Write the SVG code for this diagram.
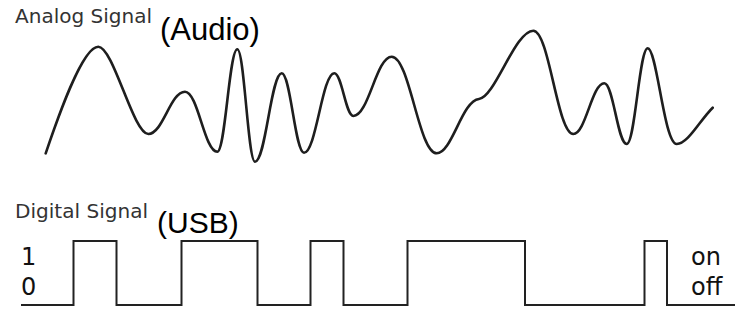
<svg xmlns="http://www.w3.org/2000/svg" width="735" height="328" viewBox="0 0 735 328">
  <style>
    .caption { font-family: "DejaVu Sans", Verdana, sans-serif; font-size: 20px; fill: #333; }
    .tag { font-family: "Liberation Sans", Arial, sans-serif; fill: #000; }
    .level { font-family: "DejaVu Sans", Verdana, sans-serif; font-size: 24px; fill: #111; }
    .wave { fill: none; stroke: #1e1e1e; stroke-width: 2.6; stroke-linecap: round; stroke-linejoin: round; }
    .pulse { fill: none; stroke: #222; stroke-width: 2; stroke-linejoin: miter; }
  </style>
  <rect width="735" height="328" fill="#fff"/>

  <!-- Analog waveform panel -->
  <g id="analog">
    <text class="caption" x="15" y="23" textLength="137" lengthAdjust="spacingAndGlyphs">Analog Signal</text>
    <text class="tag" x="160" y="39.5" font-size="31">(Audio)</text>
    <path class="wave" d="M45.7,153.3
      C57,120 82,46.7 98.3,46.7
      C113.3,46.7 133.3,134 148.3,134
      C163,134 170.3,91.7 185,91.7
      C198,91.7 204.4,151.7 217.3,151.7
      C225.3,151.7 229.3,49.3 237.3,49.3
      C244.4,49.3 247.9,161.7 255,161.7
      C265.7,161.7 271,73.3 281.7,73.3
      C290.6,73.3 295.1,152.7 304,152.7
      C316.1,152.7 322.2,73.3 334.3,73.3
      C341.9,73.3 345.7,116 353.3,116
      C368.7,116 376.3,56.7 391.7,56.7
      C409.7,56.7 418.7,153.3 436.7,153.3
      C452,153.3 462,100.5 479,99
      C495,97.5 515,30.7 533.3,30.7
      C549.3,30.7 557.3,134 573.3,134
      C585.7,134 591.9,83.3 604.3,83.3
      C613.3,83.3 617.7,144 626.7,144
      C635.1,144 639.3,48.3 647.7,48.3
      C657,48.3 664,144 676.7,144
      C688,144 700,120 712.7,107.7"/>
  </g>

  <!-- Digital pulse train panel -->
  <g id="digital">
    <text class="caption" x="15" y="218" textLength="133" lengthAdjust="spacingAndGlyphs">Digital Signal</text>
    <text class="tag" x="157" y="233" font-size="30">(USB)</text>
    <text class="level" x="21" y="265">1</text>
    <text class="level" x="21" y="295">0</text>
    <text class="level" x="691" y="265">on</text>
    <text class="level" x="691" y="295">off</text>
    <path class="pulse" d="M21,305 H73.5 V241 H116.5 V305 H181.5 V241 H257.5 V305 H310.5 V241 H343.5 V305 H407.5 V241 H525 V305 H644.5 V241 H667 V305 H735"/>
  </g>
</svg>
